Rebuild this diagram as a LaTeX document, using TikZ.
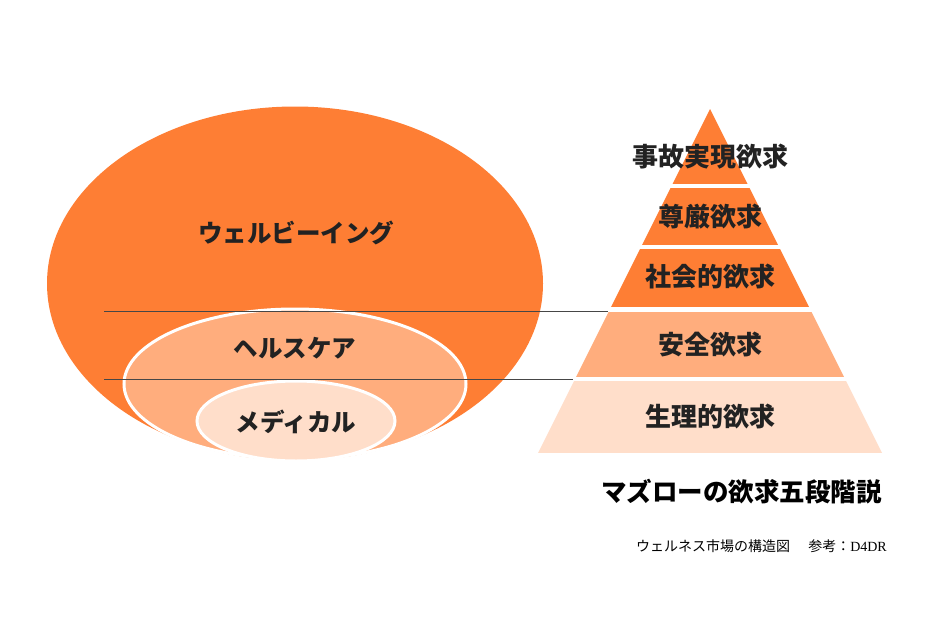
\documentclass[tikz,border=0pt]{standalone}
\usepackage{fontspec}
\setmainfont{Noto Sans CJK JP}
\newfontfamily\latinserif{Liberation Serif}
\definecolor{orangeA}{RGB}{254,126,52}
\definecolor{orangeB}{RGB}{255,173,125}
\definecolor{orangeC}{RGB}{255,222,202}
\definecolor{txt}{RGB}{34,34,34}
\definecolor{rule}{RGB}{70,70,70}
\tikzset{
  lefttext/.style={text=txt,font=\fontsize{24.5}{26}\selectfont\bfseries,inner sep=0pt},
  pyrtext/.style={text=txt,font=\fontsize{26}{28}\selectfont\bfseries,inner sep=0pt},
  titletext/.style={text=black,font=\fontsize{25.5}{28}\selectfont\bfseries,inner sep=0pt},
  captext/.style={text=black,font=\fontsize{14}{16}\selectfont,inner sep=0pt},
  ringline/.style={draw=white,line width=3pt},
  levelline/.style={draw=rule,line width=0.9pt}
}
\begin{document}
\begin{tikzpicture}[x=1pt,y=-1pt]
\useasboundingbox (0,0) rectangle (931,618);
% ellipses
\fill[orangeA] (295,283.5) ellipse [x radius=248pt, y radius=177pt];
\filldraw[fill=orangeB,ringline] (295,384) ellipse [x radius=171pt, y radius=75pt];
\filldraw[fill=orangeC,ringline] (296,421) ellipse [x radius=99pt, y radius=40pt];
% pyramid
\coordinate (A) at (710,109);
\coordinate (BL) at (538,453);
\coordinate (BR) at (882,453);
\begin{scope}
\clip (A) -- (BL) -- (BR) -- cycle;
\fill[orangeA] (500,100) rectangle (900,184);
\fill[orangeA] (500,188) rectangle (900,245);
\fill[orangeA] (500,249) rectangle (900,307);
\fill[orangeB] (500,312) rectangle (900,377);
\fill[orangeC] (500,381) rectangle (900,453);
\end{scope}
% level lines
\coordinate (l1s) at (104,311);
\coordinate (l1e) at (608,311);
\coordinate (l2s) at (104,379);
\coordinate (l2e) at (573,379);
\draw[levelline] (l1s) -- (l1e);
\draw[levelline] (l2s) -- (l2e);
% labels
\node[lefttext] (wb) at (296,233) {ウェルビーイング};
\node[lefttext] (hc) at (295,348) {ヘルスケア};
\node[lefttext] (md) at (296,422) {メディカル};
\node[pyrtext] (p1) at (710,157) {事故実現欲求};
\node[pyrtext] (p2) at (710,217) {尊厳欲求};
\node[pyrtext] (p3) at (710,277) {社会的欲求};
\node[pyrtext] (p4) at (710,345) {安全欲求};
\node[pyrtext] (p5) at (710,417) {生理的欲求};
\node[titletext] (title) at (741.5,492) {マズローの欲求五段階説};
\node[captext,anchor=east] (cap) at (887,546) {ウェルネス市場の構造図\hspace{1.3em}参考：{\latinserif D4DR}};
\end{tikzpicture}
\end{document}
